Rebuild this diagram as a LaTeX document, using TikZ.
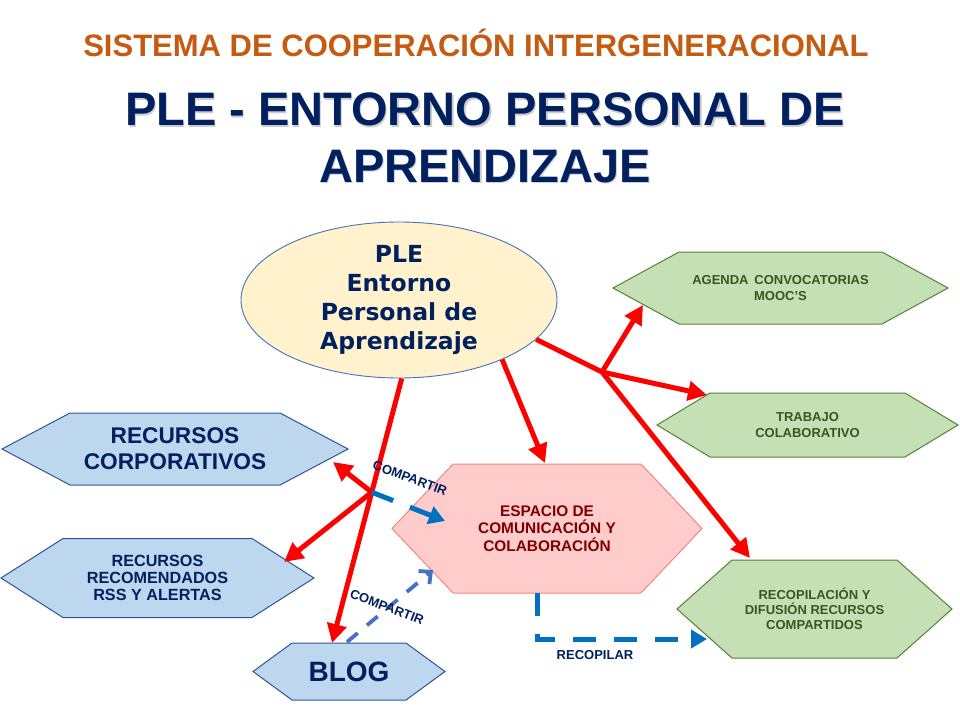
\documentclass[tikz,border=0pt]{standalone}
\usepackage{fontspec}
\setmainfont{Liberation Sans}
\newfontfamily\verd{DejaVu Sans}
\usetikzlibrary{arrows.meta,shapes.geometric,calc}
\definecolor{orangeT}{HTML}{C55A11}
\definecolor{navy}{HTML}{002060}
\definecolor{hexblue}{HTML}{BDD7EE}
\definecolor{hexblueline}{HTML}{2F5597}
\definecolor{hexgreen}{HTML}{C5E0B4}
\definecolor{hexgreenline}{HTML}{548235}
\definecolor{greentxt}{HTML}{385723}
\definecolor{pinkfill}{HTML}{FFCCCC}
\definecolor{pinkline}{HTML}{F4877F}
\definecolor{maroontxt}{HTML}{7F0000}
\definecolor{ellfill}{HTML}{FFF2CC}
\definecolor{ellline}{HTML}{4472C4}
\definecolor{blueA}{HTML}{0070C0}
\definecolor{blueB}{HTML}{4472C4}
\pgfdeclarelayer{background}
\pgfsetlayers{background,main}
\newcommand\hexa[3]{%
  \begin{pgfonlayer}{background}
  \draw[#3] (#1.west) -- ([xshift=#2pt]#1.north west) -- ([xshift=-#2pt]#1.north east)
    -- (#1.east) -- ([xshift=-#2pt]#1.south east) -- ([xshift=#2pt]#1.south west) -- cycle;
  \end{pgfonlayer}}
\begin{document}
\begin{tikzpicture}[x=1pt,y=-1pt,
  hexnode/.style={rectangle, inner sep=0pt, outer sep=0pt, align=center},
  bluehex/.style={fill=hexblue, draw=hexblueline, line width=1pt},
  greenhex/.style={fill=hexgreen, draw=hexgreenline, line width=1pt},
  pinkhex/.style={fill=pinkfill, draw=pinkline, line width=1pt},
  bluetext/.style={text=navy},
  greentext/.style={text=greentxt, font=\bfseries\fontsize{13}{15.5}\selectfont},
  redarr/.style={draw=red, line width=5pt, -{Triangle[length=19pt,width=19pt]}},
  redline/.style={draw=red, line width=5pt},
  bluedash/.style={draw=blueA, line width=5pt, dash pattern=on 23pt off 18pt, -{Triangle[length=16pt,width=18pt]}},
  bluedashB/.style={draw=blueB, line width=3.8pt, dash pattern=on 14pt off 12pt, -{Straight Barb[length=9pt,width=17pt,line width=3.8pt]}},
  lbl/.style={text=navy, inner sep=0pt, font=\bfseries\fontsize{13}{15}\selectfont},
  titleA/.style={text=orangeT, anchor=base, inner sep=0pt, font=\bfseries\fontsize{31}{36}\selectfont},
  titleB/.style={anchor=base, inner sep=0pt, font=\bfseries\fontsize{47}{56}\selectfont}
]
\useasboundingbox (0,0) rectangle (960,720);
\begin{pgfonlayer}{background}
\fill[white] (0,0) rectangle (960,720);
\end{pgfonlayer}

% titles
\node[titleA] (t1) at (476,56.5) {SISTEMA DE COOPERACIÓN INTERGENERACIONAL};
\node[titleB, text=gray!40] (t2s) at (486.3,127) {PLE - ENTORNO PERSONAL DE};
\node[titleB, text=navy] (t2) at (485,125.7) {PLE - ENTORNO PERSONAL DE};
\node[titleB, text=gray!40] (t3s) at (486.3,183.3) {APRENDIZAJE};
\node[titleB, text=navy] (t3) at (485,182) {APRENDIZAJE};

% central ellipse
\node[ellipse, minimum width=316pt, minimum height=156pt, inner sep=0pt, fill=ellfill, draw=ellline, line width=0.9pt,
  align=center, text=navy, font=\verd\bfseries\fontsize{23.5}{29}\selectfont] (ple) at (399,300)
  {PLE\\Entorno\\Personal de\\Aprendizaje};

% hexagon nodes
\node[hexnode, minimum width=346pt, minimum height=72pt, bluetext, font=\bfseries\fontsize{22.7}{26}\selectfont] (rc) at (175,449) {RECURSOS\\CORPORATIVOS};
\hexa{rc}{68}{bluehex}
\node[hexnode, minimum width=313pt, minimum height=79pt, bluetext, font=\bfseries\fontsize{16.2}{17.2}\selectfont] (rr) at (157.5,578) {RECURSOS\\RECOMENDADOS\\RSS Y ALERTAS};
\hexa{rr}{62}{bluehex}
\node[hexnode, minimum width=192pt, minimum height=57pt, bluetext, font=\bfseries\fontsize{28}{32}\selectfont] (blog) at (349,671.5) {BLOG};
\hexa{blog}{39}{bluehex}
\node[hexnode, minimum width=310pt, minimum height=129pt, text=maroontxt, font=\bfseries\fontsize{15.4}{17.5}\selectfont] (esp) at (547,528.5) {ESPACIO DE\\COMUNICACIÓN Y\\COLABORACIÓN};
\hexa{esp}{61}{pinkhex}
\node[hexnode, minimum width=335pt, minimum height=72pt, greentext] (ag) at (780.5,288) {AGENDA\, CONVOCATORIAS\\MOOC’S};
\hexa{ag}{66}{greenhex}
\node[hexnode, minimum width=301pt, minimum height=64pt, greentext] (tr) at (807.5,425) {TRABAJO\\COLABORATIVO};
\hexa{tr}{53}{greenhex}
\node[hexnode, minimum width=275pt, minimum height=98pt, greentext, font=\bfseries\fontsize{13}{15}\selectfont] (rp) at (814.5,609) {RECOPILACIÓN Y\\DIFUSIÓN RECURSOS\\COMPARTIDOS};
\hexa{rp}{55}{greenhex}

% connector points
\coordinate (blogtip) at ($(blog.north)+(-17,0)$);
\coordinate (j1) at ($(ple.-88.5)!0.43!(blogtip)$);
\coordinate (rctip) at ($(rc.east)+(-15,13)$);
\coordinate (rrtip) at ($(rr.east)+(-30,-16)$);
\coordinate (esptip) at ($(esp.north)+(-2,-1)$);
\coordinate (j2) at (602,372);
\coordinate (agtip) at ($(ag.west)+(30,17)$);
\coordinate (trtip) at ($(tr.west)+(50,-30)$);
\coordinate (rptip) at ($(rp.north)+(-64.5,-2)$);
\coordinate (espin) at ($(esp.west)+(53,-7.5)$);
\coordinate (espedge) at ($(esp.west)+(41,41.5)$);
\coordinate (blogout) at ($(blog.north)+(-2,-1)$);
\coordinate (espbot) at ($(esp.south)+(-10,0)$);
\coordinate (rpin) at ($(rp.west)+(30,30)$);

% red connectors
\draw[redarr] (ple.-88.5) -- (blogtip);
\draw[redarr] (j1) -- (rctip);
\draw[redarr] (j1) -- (rrtip);
\draw[redarr] (ple.-30) -- (esptip);
\draw[redline, line join=round] (ple.-16) -- (j2);
\draw[redarr] (j2) -- (agtip);
\draw[redarr] (j2) -- (trtip);
\draw[redarr] (j2) -- (rptip);

% blue connectors
\draw[bluedash] (j1) -- (espin);
\draw[bluedashB] (blogout) -- (espedge);
\draw[bluedash] (espbot) |- (rpin);

% labels
\node[lbl, rotate=-20] (c1) at (410,478) {COMPARTIR};
\node[lbl, rotate=-21] (c2) at (387,607) {COMPARTIR};
\node[lbl] (rcp) at (595,655) {RECOPILAR};
\end{tikzpicture}
\end{document}
